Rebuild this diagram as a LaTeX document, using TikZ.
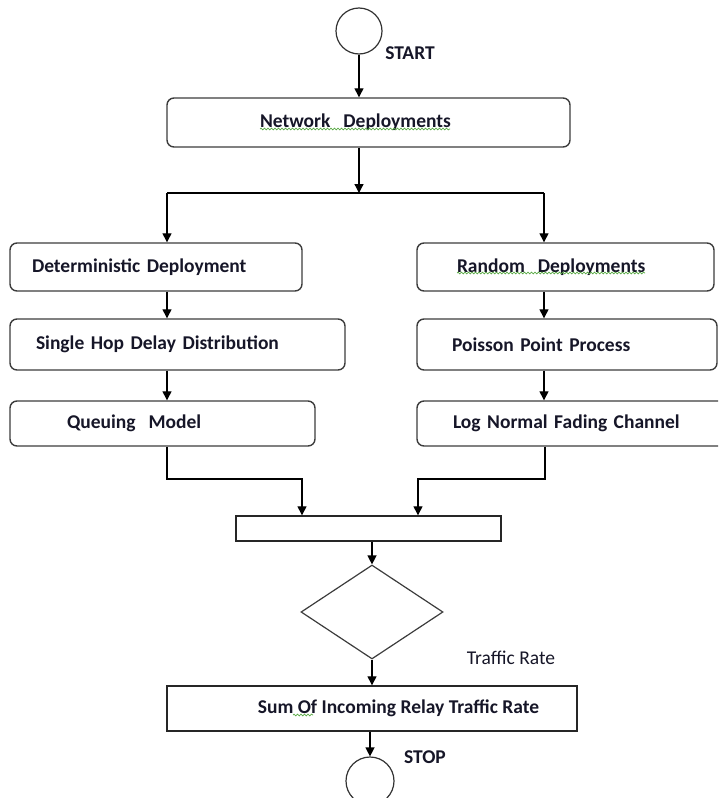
\documentclass[tikz,border=0pt]{standalone}
\usepackage{fontspec}
\setmainfont{Carlito}
\usetikzlibrary{arrows.meta,shapes.geometric,decorations.pathmorphing}
\definecolor{txt}{RGB}{22,22,40}
\definecolor{edge}{RGB}{60,60,60}
\definecolor{spell}{RGB}{90,170,70}
\tikzset{
  lblfont/.style={font=\bfseries\fontsize{19.5}{22}\selectfont, text=txt},
  rbox/.style={draw=edge, line width=1.4pt, rounded corners=7pt, inner ysep=0pt,
    align=left, lblfont},
  sqbox/.style={draw=black!85, line width=1.4pt, inner sep=0pt},
  endcircle/.style={draw=black!80, line width=1.2pt, circle, inner sep=0pt},
  conn/.style={draw=black, line width=1.3pt},
  arr/.style={conn, -{Triangle[length=9pt,width=9pt]}},
  wavy/.style={draw=spell, line width=0.7pt, decorate,
    decoration={snake, amplitude=0.9pt, segment length=3.5pt}}
}
\begin{document}
\begin{tikzpicture}[x=1pt, y=-1pt]
\useasboundingbox (0,0) rectangle (718,798);
\clip (0,0) rectangle (718,798);

% start / stop
\node[endcircle, minimum size=46pt] (start) at (359,31) {};
\node[lblfont, anchor=center] (startlbl) at (410,53) {START};

% top box
\node[rbox, minimum width=403pt, minimum height=49pt, inner xsep=93pt, text width=217pt]
  (net) at (368.5,122.5) {Network\ \ Deployments};

% left column
\node[rbox, minimum width=292pt, minimum height=48pt, inner xsep=22pt, text width=248pt]
  (det) at (156,267) {Deterministic Deployment};
\node[rbox, minimum width=335pt, minimum height=51pt, inner xsep=26pt, text width=283pt]
  (single) at (177.5,344.5) {Single Hop Delay Distribution};
\node[rbox, minimum width=305pt, minimum height=45pt, inner xsep=57pt, text width=191pt]
  (queue) at (162.5,423.5) {Queuing\ \ Model};

% right column
\node[rbox, minimum width=297pt, minimum height=48pt, inner xsep=40pt, text width=217pt]
  (rand) at (565.5,267) {Random\ \ Deployments};
\node[rbox, minimum width=300pt, minimum height=51pt, inner xsep=35pt, text width=230pt]
  (pois) at (567,344.5) {Poisson Point Process};
\node[rbox, minimum width=313pt, minimum height=45pt, inner xsep=36pt, text width=241pt]
  (logn) at (573.5,423.5) {Log Normal Fading Channel};

% merge box, decision, sum
\node[sqbox, minimum width=265pt, minimum height=25pt] (merge) at (368.5,528.5) {};
\node[draw=edge, line width=1.2pt, diamond, inner sep=0pt, minimum width=142pt,
  minimum height=94pt] (dec) at (372,612) {};
\node[font=\fontsize{19.5}{22}\selectfont, text=txt] (trlbl) at (511,658) {Traffic Rate};
\node[sqbox, minimum width=410pt, minimum height=45pt,
  label={[lblfont, xshift=26.5pt]center:Sum Of Incoming Relay Traffic Rate}]
  (sum) at (372,708.5) {};
\node[lblfont] (stoplbl) at (425,757) {STOP};
\node[endcircle, minimum size=48pt] (stop) at (370,781) {};

% spell-check underlines
\draw[wavy] (260,129) -- (450,129);
\draw[wavy] (457,273) -- (645,273);
\draw[wavy] (293,715) -- (313,715);

% connectors
\coordinate (fork) at (359,193);
\coordinate (lfork) at (167,193);
\coordinate (rfork) at (544,193);
\draw[arr] (start.south) -- (start.south |- net.north);
\draw[arr] (fork |- net.south) -- (fork);
\draw[conn] (lfork) -- (rfork);
\draw[arr] (lfork) -- (lfork |- det.north);
\draw[arr] (rfork) -- (rfork |- rand.north);
\draw[arr] (lfork |- det.south) -- (lfork |- single.north);
\draw[arr] (lfork |- single.south) -- (lfork |- queue.north);
\draw[arr] (rfork |- rand.south) -- (rfork |- pois.north);
\draw[arr] (rfork |- pois.south) -- (rfork |- logn.north);

\coordinate (lbend) at (167,479);
\coordinate (rbend) at (545,479);
\coordinate (lin) at (302,479);
\coordinate (rin) at (418,479);
\draw[arr] (lbend |- queue.south) -- (lbend) -- (lin) -- (lin |- merge.north);
\draw[arr] (rbend |- logn.south) -- (rbend) -- (rin) -- (rin |- merge.north);
\draw[arr] (dec.north |- merge.south) -- (dec.north);
\draw[arr] (dec.south) -- (dec.south |- sum.north);
\draw[arr] (stop.north |- sum.south) -- (stop.north);
\end{tikzpicture}
\end{document}
